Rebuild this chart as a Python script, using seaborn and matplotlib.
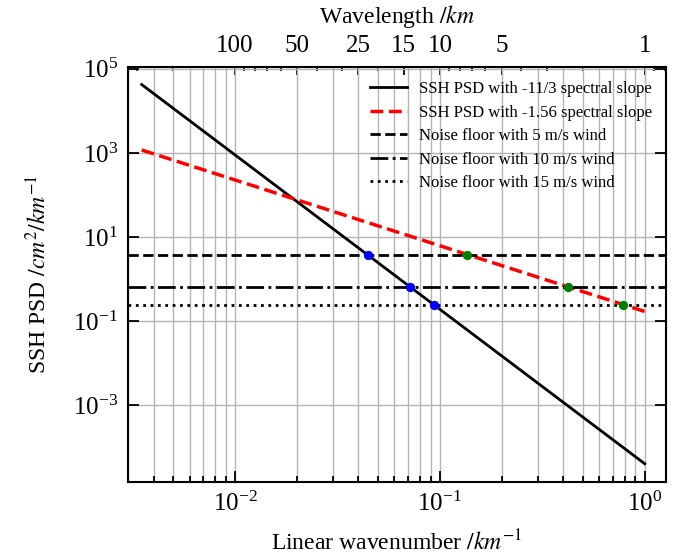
import numpy as np
import matplotlib
matplotlib.use('Agg')
import matplotlib.pyplot as plt
from matplotlib.ticker import NullLocator, NullFormatter
import seaborn as sns

# line end points (straight lines on log-log axes)
wavenumber = [0.0035, 1.0]
psd_steep = [4.2e4, 4.1e-5]      # -11/3 slope
psd_shallow = [1.17e3, 0.17]     # -1.56 slope

# noise floors for 5, 10, 15 m/s wind
noise_labels = ['Noise floor with 5 m/s wind',
                'Noise floor with 10 m/s wind',
                'Noise floor with 15 m/s wind']
noise_levels = [3.8, 0.66, 0.247]
noise_styles = ['--', '-.', ':']

# crossing points of the spectra with the noise floors
cross_k_steep = [0.0447, 0.0715, 0.094]
cross_k_shallow = [0.136, 0.42, 0.787]

# top axis: wavelength in km
wavelength_ticks = [100, 50, 25, 15, 10, 5, 1]

plt.rcParams['font.family'] = 'serif'
plt.rcParams['font.serif'] = ['Liberation Serif', 'DejaVu Serif']
plt.rcParams['mathtext.fontset'] = 'stix'

fig = plt.figure(figsize=(6.88, 5.58), dpi=100)
ax = fig.add_axes([0.186, 0.136, 0.782, 0.744])
ax.set_xscale('log')
ax.set_yscale('log')

sns.lineplot(x=wavenumber, y=psd_steep, ax=ax, color='black', lw=2,
             label='SSH PSD with -11/3 spectral slope')
sns.lineplot(x=wavenumber, y=psd_shallow, ax=ax, color='red', lw=2.5,
             linestyle='--', label='SSH PSD with -1.56 spectral slope')
for lvl, ls, lab in zip(noise_levels, noise_styles, noise_labels):
    ax.axhline(lvl, color='black', lw=2, linestyle=ls, label=lab)

sns.scatterplot(x=cross_k_steep, y=noise_levels, ax=ax, color='blue',
                s=45, linewidth=0, zorder=5)
sns.scatterplot(x=cross_k_shallow, y=noise_levels, ax=ax, color='green',
                s=45, linewidth=0, zorder=5)

ax.set_xlim(0.003, 1.27)
ax.set_ylim(1.5e-5, 1.1e5)
ax.set_yticks([1e-3, 1e-1, 1e1, 1e3, 1e5])
ax.yaxis.set_minor_locator(NullLocator())

ax.grid(True, which='both', axis='x', color='#b4b4b4', lw=1)
ax.grid(True, which='major', axis='y', color='#b4b4b4', lw=1)
ax.set_axisbelow(True)

ax.tick_params(which='both', direction='in', top=False, right=True,
               labelsize=18, width=1.3)
ax.tick_params(which='major', length=8, pad=7)
ax.tick_params(which='minor', length=4)
for sp in ax.spines.values():
    sp.set_linewidth(1.5)

ax.set_xlabel('Linear wavenumber $/km^{-1}$', fontsize=17, labelpad=10)
ax.set_ylabel('SSH PSD $/cm^2/km^{-1}$', fontsize=17, labelpad=16)

# top axis in wavelength
inv = lambda x: 1.0 / x
secax = ax.secondary_xaxis('top', functions=(inv, inv))
secax.set_xticks(wavelength_ticks, labels=[str(w) for w in wavelength_ticks])
secax.xaxis.set_minor_formatter(NullFormatter())
secax.tick_params(which='both', direction='in', labelsize=18, width=1.3)
secax.tick_params(which='major', length=6, pad=7)
secax.tick_params(which='minor', length=3)
secax.set_xlabel('Wavelength $/km$', fontsize=17, labelpad=9)

ax.legend(loc='upper right', frameon=False, fontsize=12, handlelength=2.2,
          handletextpad=0.7, labelspacing=0.45, borderaxespad=0.45)

fig.savefig('out.png', dpi=100)
plt.close(fig)
